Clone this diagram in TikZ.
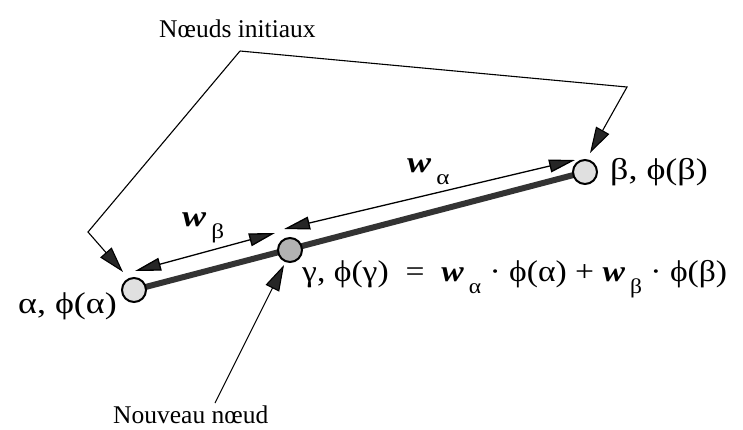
\documentclass[tikz,border=0pt]{standalone}
\usepackage{fontspec}
\setmainfont{Liberation Serif}
\newfontfamily\grkfont[FakeStretch=1.2]{Liberation Serif}
\newfontfamily\frmfont[FakeStretch=1.12]{Liberation Serif}
\usetikzlibrary{arrows.meta}
\pgfdeclarelayer{bg}
\pgfsetlayers{bg,main}
\newcommand\wsub[1]{\textbf{\textit{w}}\,\raisebox{-0.4em}{\fontsize{21}{21}\selectfont #1}}
\tikzset{
  vtx/.style={circle, draw=black, line width=2pt, minimum size=24pt, inner sep=0pt},
  bar/.style={line width=6pt, draw=black!80},
  warrow/.style={line width=1.3pt, {Triangle[length=26pt,width=13pt,fill=black!85]}-{Triangle[length=26pt,width=13pt,fill=black!85]}},
  leader/.style={line width=1.1pt, -{Triangle[length=26pt,width=15pt,fill=black!85]}},
  lbl/.style={inner sep=0pt, font=\grkfont\fontsize{30}{32}\selectfont},
  frml/.style={inner sep=0pt, font=\frmfont\fontsize{30}{32}\selectfont},
  frtxt/.style={inner sep=0pt, font=\fontsize{25.5}{28}\selectfont}
}
\begin{document}
\begin{tikzpicture}[x=1pt,y=-1pt]
\begin{pgfonlayer}{bg}
\fill[white] (0,0) rectangle (743,429);
\end{pgfonlayer}
\useasboundingbox (0,0) rectangle (743,429);
% vertices
\node[vtx, fill=black!12] (a) at (134,290) {};
\node[vtx, fill=black!30] (g) at (290,250) {};
\node[vtx, fill=black!12] (b) at (585,172) {};
\begin{pgfonlayer}{bg}
\draw[bar] (a.center) -- (b.center);
\end{pgfonlayer}
% weight arrows
\coordinate (wb1) at (135,271);
\coordinate (wb2) at (275,233);
\coordinate (wa1) at (284,229);
\coordinate (wa2) at (575,160);
\draw[warrow] (wb1) -- (wb2);
\draw[warrow] (wa1) -- (wa2);
\node[lbl, anchor=west] (lwb) at (182,228) {\wsub{β}};
\node[lbl, anchor=west] (lwa) at (407,172) {\wsub{α}};
% labels
\node[lbl, anchor=east] (la) at (117,306) {α, ϕ(α)};
\node[lbl, anchor=west] (lb) at (610,172) {β, ϕ(β)};
\node[frml, anchor=west] (lg) at (302,279) {γ, ϕ(γ)\ \ =\ \ \wsub{α}\ ·\ ϕ(α) + \wsub{β}\ ·\ ϕ(β)};
% leaders
\node[frtxt, anchor=west] (ni) at (159,29) {Nœuds initiaux};
\coordinate (c1) at (88,232);
\coordinate (c2) at (240,51);
\coordinate (c3) at (627,87);
\coordinate (ta) at (123,272);
\coordinate (tb) at (590,153);
\draw[leader] (c2) -- (c1) -- (ta);
\draw[leader] (c2) -- (c3) -- (tb);
\node[frtxt, anchor=west] (nn) at (113,415) {Nouveau nœud};
\coordinate (n1) at (215,403);
\coordinate (tg) at (284,265);
\draw[leader] (n1) -- (tg);
\end{tikzpicture}
\end{document}
